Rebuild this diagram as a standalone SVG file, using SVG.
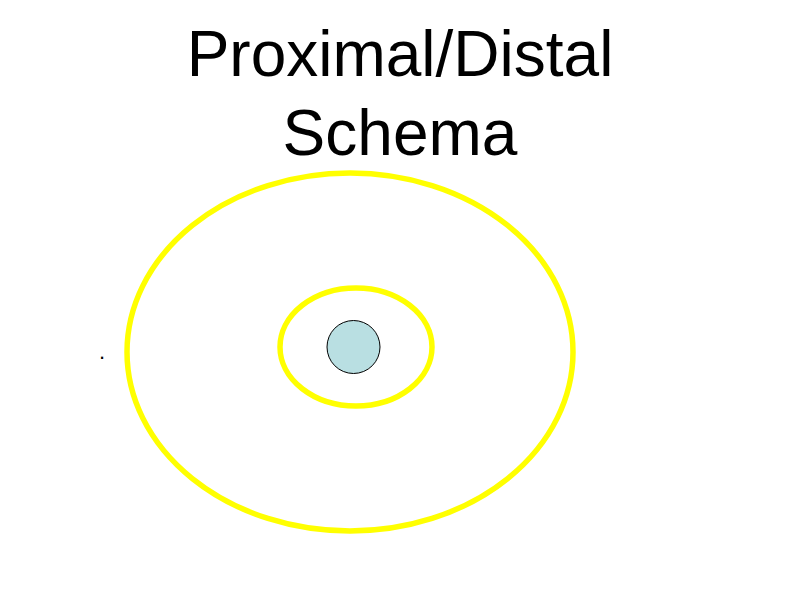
<svg xmlns="http://www.w3.org/2000/svg" width="800" height="600" viewBox="0 0 800 600">
<style>
.title{font-family:"Liberation Sans",Arial,sans-serif;font-size:64px;fill:#000;text-anchor:middle}
.ring{fill:none;stroke:#ffff00;stroke-width:5.5}
.dot{font-family:"Liberation Sans",Arial,sans-serif;font-size:22px;fill:#000}
</style>
<rect width="800" height="600" fill="#fff"/>
<text class="title" x="400" y="76">Proximal/Distal</text>
<text class="title" x="400" y="155">Schema</text>
<g id="outer"><ellipse class="ring" cx="350" cy="352" rx="223" ry="179"/></g>
<g id="inner"><ellipse class="ring" cx="356" cy="347" rx="76" ry="59"/></g>
<g id="core"><circle cx="353.5" cy="347" r="26.5" fill="#b9dfe2" stroke="#000" stroke-width="1"/></g>
<text class="dot" x="99" y="359">.</text>
<g id="connectors"/>
</svg>
